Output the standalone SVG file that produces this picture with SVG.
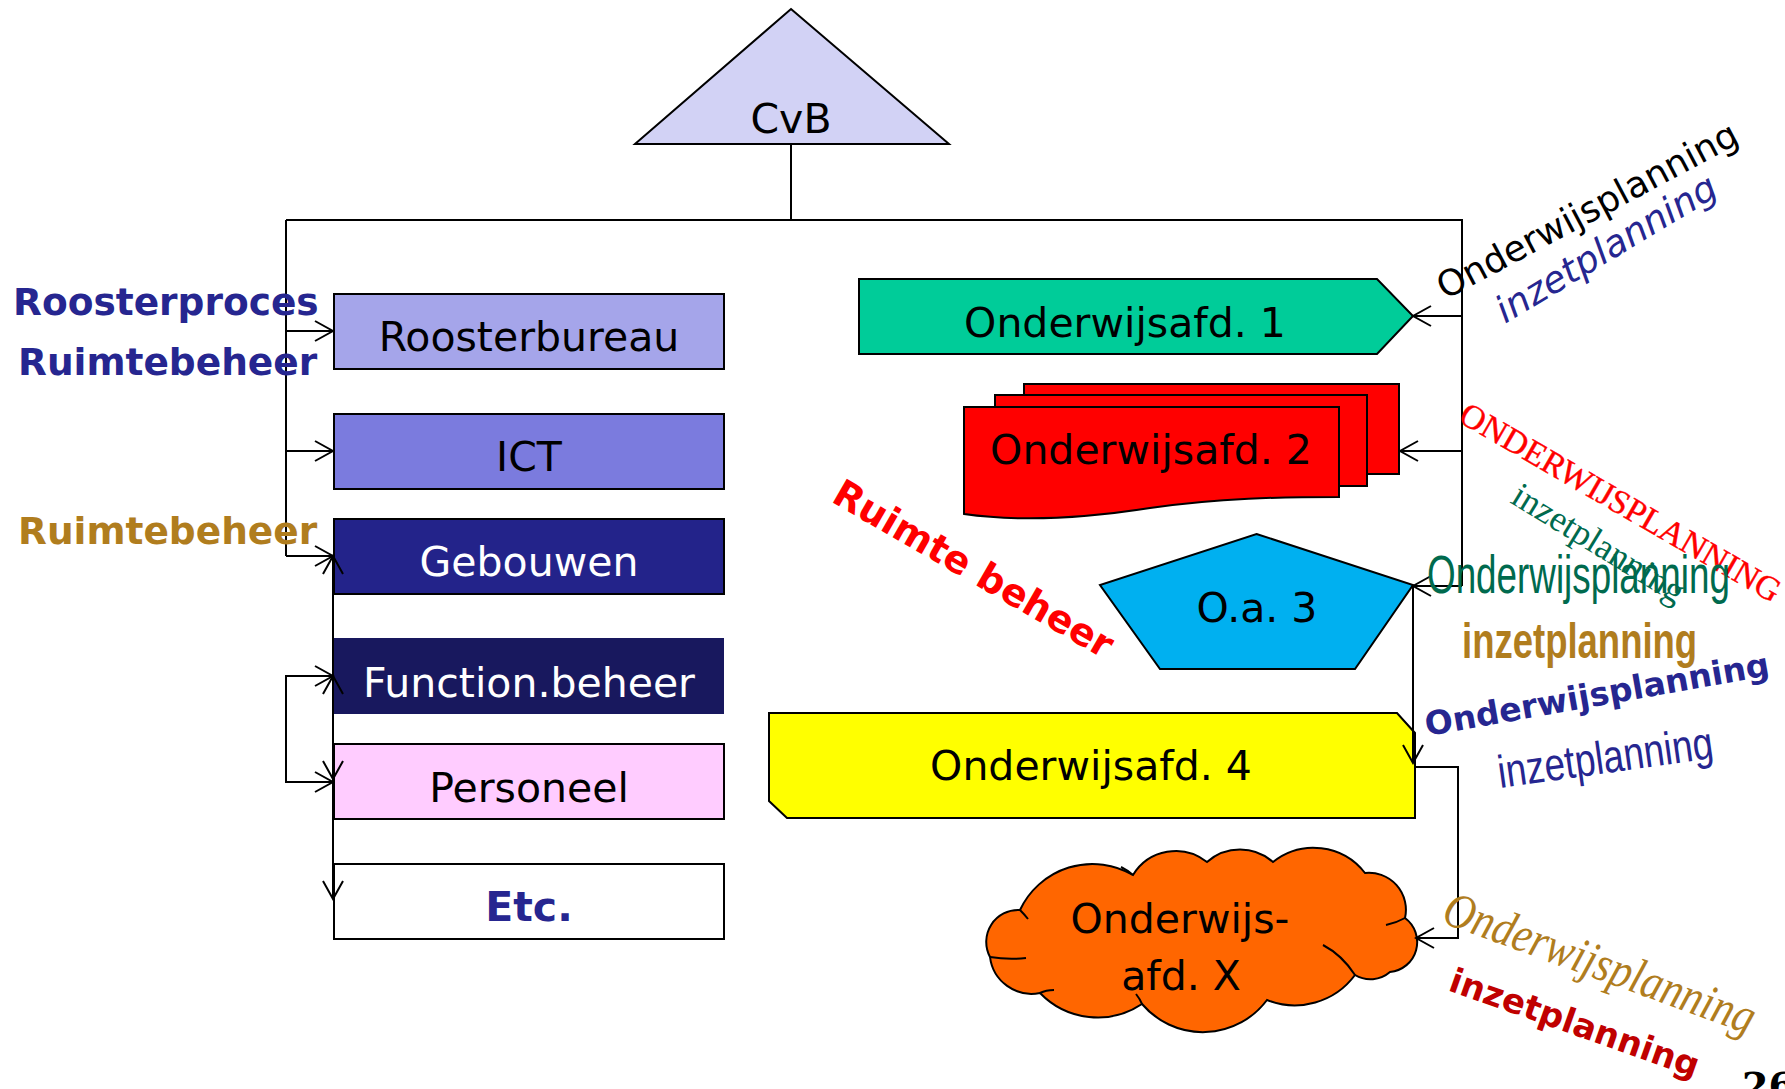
<svg xmlns="http://www.w3.org/2000/svg" width="1785" height="1089" viewBox="0 0 1785 1089">
<defs>
<marker id="arr" viewBox="-22 -12 24 24" refX="0" refY="0" markerWidth="24" markerHeight="24" markerUnits="userSpaceOnUse" orient="auto-start-reverse">
<path d="M-18,-10 L0,0 L-18,10" fill="none" stroke="#000" stroke-width="2"/>
</marker>
</defs>
<style>
.box{stroke:#000;stroke-width:2}
.lbl{font-family:"DejaVu Sans",sans-serif;font-size:41px;text-anchor:middle;fill:#000}
.ln{fill:none;stroke:#000;stroke-width:2}
.side{font-family:"DejaVu Sans",sans-serif;font-size:37.5px;font-weight:bold}
</style>
<rect width="1785" height="1089" fill="#fff"/>

<g id="cvb">
<polygon class="box" points="791,9 949,144 635,144" fill="#D2D2F5"/>
<text class="lbl" x="791" y="133">CvB</text>
</g>

<g id="roosterbureau">
<rect class="box" x="334" y="294" width="390" height="75" fill="#A5A5EA"/>
<text class="lbl" x="529" y="351">Roosterbureau</text>
</g>
<g id="ict">
<rect class="box" x="334" y="414" width="390" height="75" fill="#7B7BDE"/>
<text class="lbl" x="529" y="471">ICT</text>
</g>
<g id="gebouwen">
<rect class="box" x="334" y="519" width="390" height="75" fill="#23238A"/>
<text class="lbl" x="529" y="576" style="fill:#fff">Gebouwen</text>
</g>
<g id="function">
<rect x="334" y="638" width="390" height="76" fill="#18185E"/>
<text class="lbl" x="529" y="697" style="fill:#fff">Function.beheer</text>
</g>
<g id="personeel">
<rect class="box" x="334" y="744" width="390" height="75" fill="#FFCCFF"/>
<text class="lbl" x="529" y="802">Personeel</text>
</g>
<g id="etc">
<rect class="box" x="334" y="864" width="390" height="75" fill="#fff"/>
<text class="lbl" x="529" y="921" style="fill:#262690;font-weight:bold">Etc.</text>
</g>

<g id="afd1">
<polygon class="box" points="859,279 1377,279 1413,316 1377,354 859,354" fill="#00CC99"/>
<text class="lbl" x="1125" y="337">Onderwijsafd. 1</text>
</g>

<g id="afd2">
<rect class="box" x="1024" y="384" width="375" height="90" fill="#FF0000"/>
<rect class="box" x="995" y="395" width="372" height="91" fill="#FF0000"/>
<path class="box" d="M964,407 H1339 V497 C1280,497 1220,498 1150,508 C1080,519 1020,522 964,514 Z" fill="#FF0000"/>
<text class="lbl" x="1151" y="464">Onderwijsafd. 2</text>
</g>

<g id="oa3">
<polygon class="box" points="1256.5,534 1413,585 1355,669 1160,669 1100,585" fill="#00B0F0"/>
<text class="lbl" x="1257" y="622">O.a. 3</text>
</g>

<g id="afd4">
<polygon class="box" points="769,713 1397,713 1415,733 1415,818 787,818 769,801" fill="#FFFF00"/>
<text class="lbl" x="1091" y="780">Onderwijsafd. 4</text>
</g>

<g id="afdx">
<path class="box" fill="#FF6600" d="M1020,910 A80,80 0 0 1 1133,875 A50,50 0 0 1 1207,862 A50,50 0 0 1 1273,862 A65,65 0 0 1 1365,873 A37,37 0 0 1 1405,918 A30,30 0 0 1 1390,972 A30,30 0 0 1 1355,975 A75,75 0 0 1 1267,1000 A80,80 0 0 1 1142,1004 A80,80 0 0 1 1040,993 A42,42 0 0 1 990,957 A32,32 0 0 1 1020,910 Z"/>
<path class="ln" d="M990,957 Q1008,960 1026,958 M1020,910 Q1024,914 1028,919 M1133,875 Q1127,870 1121,867 M1405,918 Q1396,923 1386,925 M1355,975 Q1342,955 1323,945 M1142,1004 Q1140,999 1136,994 M1040,993 Q1046,990 1054,990"/>
<text class="lbl" x="1180" y="933">Onderwijs-</text>
<text class="lbl" x="1181" y="990">afd. X</text>
</g>

<g id="connectors">
<path class="ln" d="M791,144 V220"/>
<path class="ln" d="M286,220 H1462 V586"/>
<path class="ln" d="M286,220 V556"/>
<path class="ln" d="M286,331 H333" marker-end="url(#arr)"/>
<path class="ln" d="M286,451 H333" marker-end="url(#arr)"/>
<path class="ln" d="M286,556 H333" marker-end="url(#arr)"/>
<path class="ln" d="M333,676 H286 V782 H333" marker-start="url(#arr)" marker-end="url(#arr)"/>
<path class="ln" d="M333,556 V899"/>
<path class="ln" d="M333,590 V556" marker-end="url(#arr)"/>
<path class="ln" d="M333,710 V676" marker-end="url(#arr)"/>
<path class="ln" d="M333,750 V779" marker-end="url(#arr)"/>
<path class="ln" d="M333,870 V899" marker-end="url(#arr)"/>
<path class="ln" d="M1462,316 H1413" marker-end="url(#arr)"/>
<path class="ln" d="M1462,451 H1400" marker-end="url(#arr)"/>
<path class="ln" d="M1462,586 H1413" marker-end="url(#arr)"/>
<path class="ln" d="M1413,586 V763" marker-end="url(#arr)"/>
<path class="ln" d="M1414,767 H1458 V938 H1416" marker-end="url(#arr)"/>
</g>

<g id="labels">
<text class="side" x="13" y="315" fill="#262690">Roosterproces</text>
<text class="side" x="18" y="375" fill="#262690">Ruimtebeheer</text>
<text class="side" x="18" y="544" fill="#B07D1E">Ruimtebeheer</text>
<text class="side" transform="translate(830,501) rotate(30)" style="font-size:38px" fill="#FF0000">Ruimte beheer</text>

<text transform="translate(1445,300) rotate(-28)" font-family="DejaVu Sans, sans-serif" font-size="36" fill="#000">Onderwijsplanning</text>
<text transform="translate(1505,324) rotate(-31)" font-family="DejaVu Sans, sans-serif" font-size="37" font-style="italic" fill="#262690">inzetplanning</text>
<text transform="translate(1457,421) rotate(30)" font-family="Liberation Serif, serif" font-size="34" fill="#FF0000" stroke="#FF0000" stroke-width="0.4">ONDERWIJSPLANNING</text>
<text transform="translate(1509,502) rotate(31.5)" font-family="Liberation Serif, serif" font-size="36" fill="#006A4E">inzetplanning</text>
<text transform="translate(1427,593) scale(0.695,1)" font-family="Liberation Sans, sans-serif" font-size="53" fill="#006A4E">Onderwijsplanning</text>
<text transform="translate(1462,658) scale(0.73,1)" font-family="Liberation Sans, sans-serif" font-size="50" font-weight="bold" fill="#B07D1E">inzetplanning</text>
<text transform="translate(1427,736) rotate(-10)" font-family="DejaVu Sans, sans-serif" font-size="33" font-weight="bold" fill="#262690">Onderwijsplanning</text>
<text transform="translate(1500,788) rotate(-8) scale(0.8,1)" font-family="Liberation Sans, sans-serif" font-size="46" fill="#262690">inzetplanning</text>
<text transform="translate(1440,922) rotate(20) scale(0.85,1)" font-family="Liberation Serif, serif" font-size="50" font-style="italic" fill="#B07D1E">Onderwijsplanning</text>
<text transform="translate(1447,990) rotate(19.5)" font-family="DejaVu Sans, sans-serif" font-size="34" font-weight="bold" fill="#C00000">inzetplanning</text>
<text x="1742" y="1099" font-family="DejaVu Serif, serif" font-size="38" font-weight="bold" fill="#000">26</text>
</g>
</svg>
